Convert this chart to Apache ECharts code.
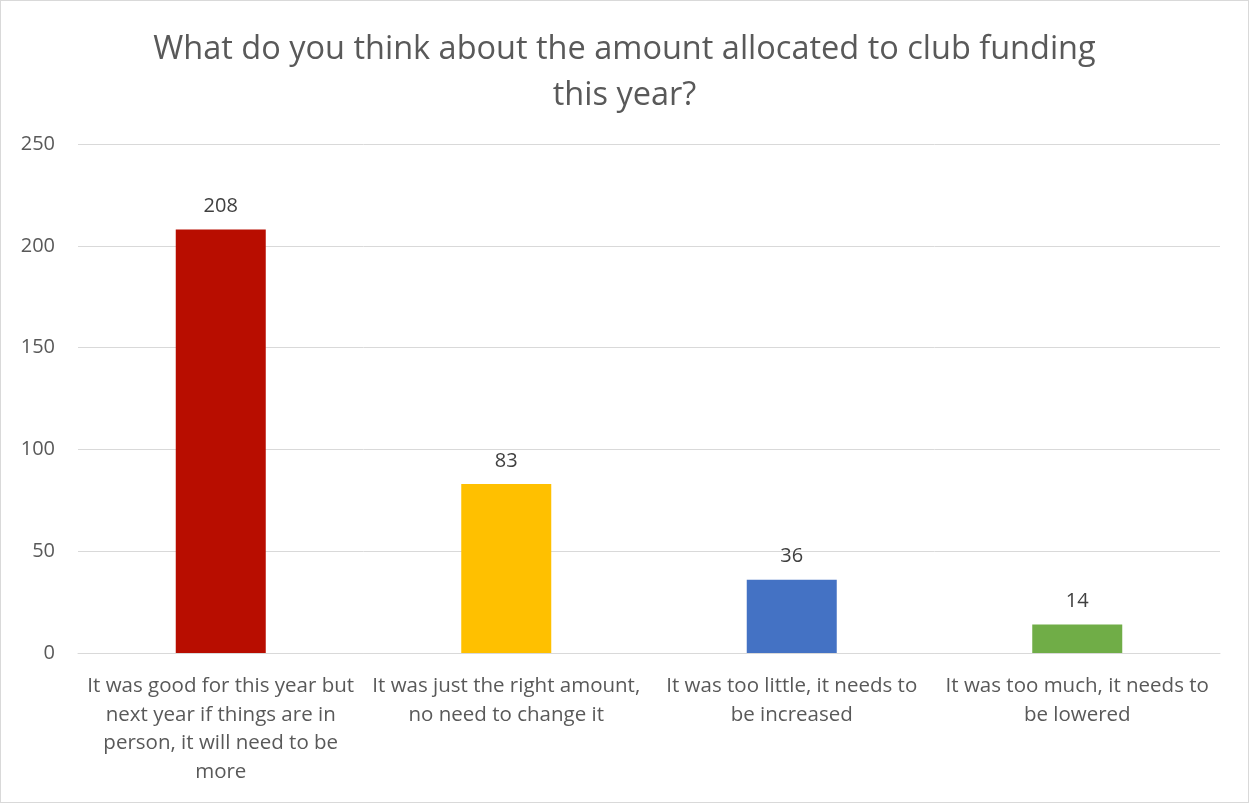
<!DOCTYPE html>
<html><head><meta charset="utf-8">
<script src="https://cdn.jsdelivr.net/npm/echarts@6/dist/echarts.min.js"></script>
<style>html,body{margin:0;padding:0;background:#fff;}#c{width:1247px;height:801px;border:1px solid #d9d9d9;}</style>
</head><body><div id="c"></div>
<script>
const titleText = "What do you think about the amount allocated to club funding\nthis year?";
const categories = [
  "It was good for this year but\nnext year if things are in\nperson, it will need to be\nmore",
  "It was just the right amount,\nno need to change it",
  "It was too little, it needs to\nbe increased",
  "It was too much, it needs to\nbe lowered"
];
const values = [208, 83, 36, 14];
const barColors = ["#B80D00", "#FFC000", "#4472C4", "#70AD47"];
const yTicks = {min: 0, max: 250, interval: 50};

const font = "Open Sans, Liberation Sans, Arial, sans-serif";
const chart = echarts.init(document.getElementById('c'));
chart.setOption({
  animation: false,
  title: {text: titleText, left: 'center', top: 21,
    textStyle: {fontFamily: font, fontSize: 32.5, fontWeight: 'normal', color: '#595959', lineHeight: 46}},
  grid: {left: 77, right: 28, top: 143, bottom: 149},
  xAxis: {type: 'category', data: categories,
    axisLine: {lineStyle: {color: '#d9d9d9'}}, axisTick: {show: false},
    axisLabel: {fontFamily: font, fontSize: 20.5, color: '#595959', lineHeight: 28.5, margin: 19, interval: 0}},
  yAxis: {type: 'value', min: yTicks.min, max: yTicks.max, interval: yTicks.interval,
    axisLine: {show: false}, axisTick: {show: false},
    splitLine: {lineStyle: {color: '#d9d9d9'}},
    axisLabel: {fontFamily: font, fontSize: 20, color: '#595959', margin: 23}},
  series: [{type: 'bar', barWidth: 90,
    data: values.map((v, i) => ({value: v, itemStyle: {color: barColors[i]}})),
    label: {show: true, position: 'top', distance: 13, fontFamily: font, fontSize: 20, color: '#404040'}}]
});
</script></body></html>
